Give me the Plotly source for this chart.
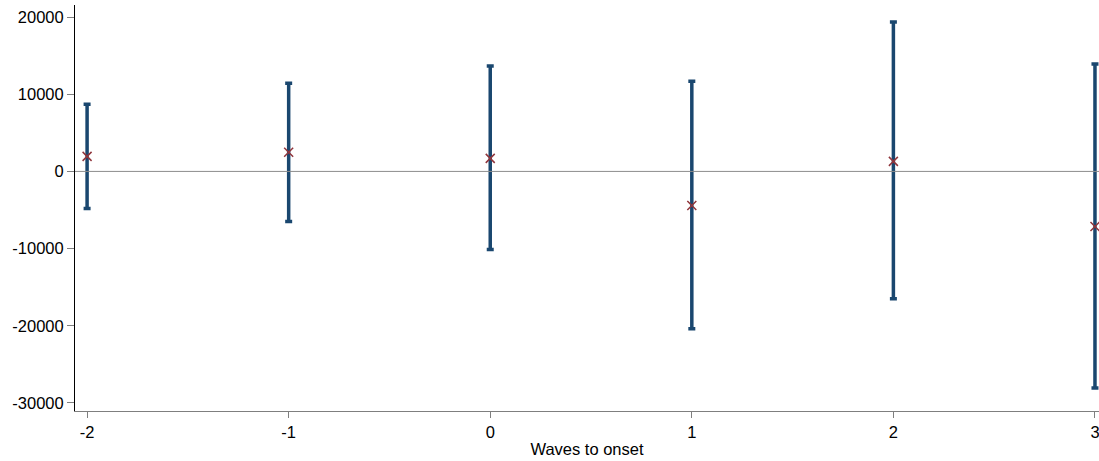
import plotly.graph_objects as go

waves = [-2, -1, 0, 1, 2, 3]
estimate = [1950, 2470, 1690, -4420, 1300, -7140]
upper = [8700, 11430, 13640, 11690, 19350, 13900]
lower = [-4800, -6500, -10130, -20390, -16490, -28050]

navy = "#1a476f"
maroon = "#90353b"

fig = go.Figure()
fig.add_trace(go.Scatter(
    x=waves, y=estimate, mode="markers",
    marker=dict(symbol="x-thin", size=9, line=dict(color=maroon, width=1.5), color=maroon),
    error_y=dict(type="data", symmetric=False,
                 array=[u - e for u, e in zip(upper, estimate)],
                 arrayminus=[e - l for e, l in zip(estimate, lower)],
                 color=navy, thickness=3.5, width=3.5),
    showlegend=False,
))
fig.add_hline(y=0, line=dict(color="#8c8c8c", width=1))

fig.update_layout(
    width=1099, height=461,
    margin=dict(l=75, r=0, t=5, b=50),
    paper_bgcolor="white", plot_bgcolor="white",
    font=dict(family="Liberation Sans, Arial, sans-serif", size=16.5, color="black"),
    xaxis=dict(range=[-2.06, 3.02], tickvals=waves, ticktext=[str(w) for w in waves],
               showgrid=False, zeroline=False, showline=True, linecolor="#7f7f7f", linewidth=1,
               ticks="outside", ticklen=6, tickcolor="#7f7f7f", ticklabeloverflow="allow",
               title=dict(text="Waves to onset", font=dict(size=16.5), standoff=3)),
    yaxis=dict(range=[-31039, 21558], tickvals=[-30000, -20000, -10000, 0, 10000, 20000],
               ticktext=["-30000", "-20000", "-10000", "0", "10000", "20000"],
               showgrid=False, zeroline=False, showline=True, linecolor="black", linewidth=1,
               ticks="outside", ticklen=7, tickcolor="#7f7f7f"),
)
fig.write_html("out.html")
